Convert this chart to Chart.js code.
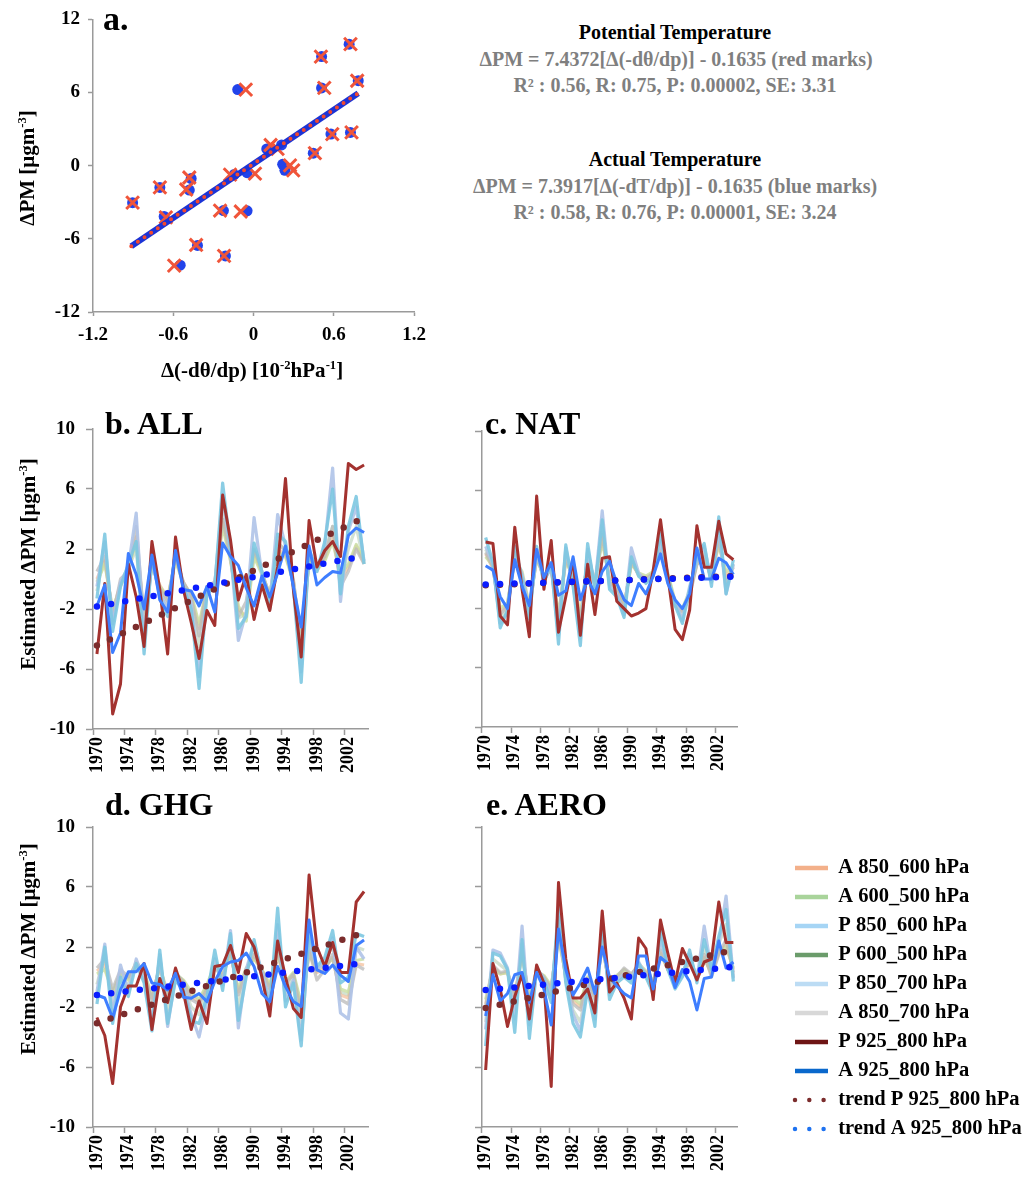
<!DOCTYPE html>
<html><head><meta charset="utf-8">
<script src="https://cdn.jsdelivr.net/npm/chart.js@4.4.0/dist/chart.umd.min.js"></script>
<style>
html,body{margin:0;padding:0;background:#fff;}
body{width:1028px;height:1179px;position:relative;overflow:hidden;font-family:'Liberation Serif','Times New Roman',serif;font-weight:bold;color:#000;}
canvas{position:absolute;}
.t{position:absolute;white-space:nowrap;line-height:1;}
.c{transform:translate(-50%,-50%);}
.r{transform:translate(-50%,-50%) rotate(-90deg);}
.s{font-size:0.6em;position:relative;top:-0.6em;}
.g{color:#7f7f7f;}
</style></head><body>
<canvas id="ca" width="440" height="390" style="left:0;top:0"></canvas>
<canvas id="cb" width="470" height="400" style="left:0;top:390px"></canvas>
<canvas id="cc" width="558" height="400" style="left:470px;top:390px"></canvas>
<canvas id="cd" width="470" height="389" style="left:0;top:790px"></canvas>
<canvas id="ce" width="558" height="389" style="left:470px;top:790px"></canvas>

<div class="t" style="left:103px;top:2px;font-size:34px">a.</div>
<div class="t" style="left:105px;top:407px;font-size:32px">b. ALL</div>
<div class="t" style="left:485px;top:407px;font-size:32px">c. NAT</div>
<div class="t" style="left:105px;top:788px;font-size:32px">d. GHG</div>
<div class="t" style="left:486px;top:788px;font-size:32px">e. AERO</div>

<div class="t r" style="left:27px;top:168px;font-size:21px">ΔPM [μgm<span class="s">-3</span>]</div>
<div class="t c" style="left:252px;top:370px;font-size:21px">Δ(-dθ/dp) [10<span class="s">-2</span>hPa<span class="s">-1</span>]</div>
<div class="t r" style="left:28px;top:564px;font-size:21px">Estimated ΔPM [μgm<span class="s">-3</span>]</div>
<div class="t r" style="left:28px;top:949px;font-size:21px">Estimated ΔPM [μgm<span class="s">-3</span>]</div>

<div class="t c" style="left:675px;top:32px;font-size:20px">Potential Temperature</div>
<div class="t c g" style="left:676px;top:59px;font-size:20px">ΔPM = 7.4372[Δ(-dθ/dp)] - 0.1635 (red marks)</div>
<div class="t c g" style="left:675px;top:85px;font-size:20px">R² : 0.56, R: 0.75, P: 0.00002, SE: 3.31</div>
<div class="t c" style="left:675px;top:159px;font-size:20px">Actual Temperature</div>
<div class="t c g" style="left:675px;top:186px;font-size:20px">ΔPM = 7.3917[Δ(-dT/dp)] - 0.1635 (blue marks)</div>
<div class="t c g" style="left:675px;top:212px;font-size:20px">R² : 0.58, R: 0.76, P: 0.00001, SE: 3.24</div>

<script>
// ---------- Panel a data ----------
const blueX = [-0.904,-0.70,-0.668,-0.466,-0.48,-0.548,-0.419,-0.225,-0.21,-0.145,-0.118,-0.048,-0.048,0.099,0.21,0.218,0.235,0.447,0.509,0.509,0.579,0.715,0.725,0.783];
const blueY = [-3.03,-1.78,-4.16,-1.05,-2.0,-8.16,-6.54,-3.68,-7.4,-0.73,6.24,-3.70,-0.57,1.38,1.70,0.11,-0.38,1.03,8.95,6.38,2.59,9.97,2.73,6.97];
const redX = [-0.904,-0.70,-0.655,-0.48,-0.503,-0.593,-0.429,-0.25,-0.22,-0.175,-0.058,-0.095,0.011,0.128,0.18,0.273,0.297,0.459,0.504,0.529,0.589,0.725,0.733,0.775];
const redY = [-3.03,-1.78,-4.24,-0.97,-1.95,-8.2,-6.5,-3.68,-7.4,-0.73,6.24,-3.76,-0.65,1.70,1.38,0.03,-0.38,1.03,8.95,6.38,2.59,9.97,2.73,6.97];
const fitX = [-0.914, 0.783];
const fitY = [-6.6, 5.95];

// ---------- Panels b-e data ----------
const years = [1970,1971,1972,1973,1974,1975,1976,1977,1978,1979,1980,1981,1982,1983,1984,1985,1986,1987,1988,1989,1990,1991,1992,1993,1994,1995,1996,1997,1998,1999,2000,2001,2002,2003,2004];
const seriesNames = ['A 850_600 hPa','A 600_500 hPa','P 850_600 hPa','P 600_500 hPa','P 850_700 hPa','A 850_700 hPa','P 925_800 hPa','A 925_800 hPa','trend P 925_800 hPa','trend A 925_800 hPa'];

// b. ALL
const bA850_600 = [0.0,1.2,-2.2,-0.3,0.6,2.8,-2.6,1.0,-0.4,-1.3,1.3,-0.2,-1.1,-3.3,-0.5,-0.3,3.8,1.3,-2.0,-2.5,1.8,0.4,-1.1,2.0,1.6,-0.1,-4.2,1.3,0.7,1.3,2.8,0.0,0.8,2.2,1.1];
const bA600_500 = [-0.2,1.0,-2.0,-0.5,0.8,2.5,-2.5,0.8,-0.5,-1.2,1.2,-0.3,-1.0,-3.0,-0.6,-0.4,3.5,1.2,-1.8,-2.8,1.5,0.3,-1.0,1.8,1.5,-0.2,-4.0,1.2,0.6,1.2,2.5,0.3,1.0,2.3,1.2];
const bP850_600 = [-1.3,3.0,-3.5,-0.5,1.0,2.5,-5.0,1.5,-1.2,-2.5,2.0,-0.5,-2.0,-7.3,-1.0,-0.5,6.4,2.0,-3.3,-2.5,2.4,0.5,-2.0,3.0,2.5,-0.5,-6.9,2.0,0.5,2.5,6.0,-1.0,3.5,5.5,1.0];
const bP600_500 = [-0.8,1.8,-2.8,-0.4,0.7,2.0,-3.5,1.1,-0.8,-1.8,1.5,-0.4,-1.4,-4.5,-0.8,-0.5,4.5,1.5,-2.6,-2.3,1.9,0.4,-1.5,2.3,2.0,-0.3,-5.0,1.5,0.5,1.8,3.5,-0.3,2.0,3.5,1.0];
const bP850_700 = [-0.5,2.5,-3.0,-0.2,0.8,4.4,-4.0,1.2,-1.0,-2.0,1.8,-0.4,-1.6,-6.5,-0.8,-0.3,5.5,1.8,-4.1,-2.2,4.1,0.3,-1.8,4.3,2.2,-0.4,-6.2,1.8,0.6,2.2,7.4,-1.5,3.2,4.8,1.2];
const bA850_700 = [0.5,1.5,-2.5,0.0,0.5,3.5,-2.8,1.0,-0.6,-1.5,1.5,-0.2,-1.2,-3.8,-0.5,-0.2,4.0,1.5,-2.5,-1.5,2.0,0.5,-1.2,2.5,1.8,0.0,-4.5,1.5,0.8,1.5,3.5,-0.5,0.5,2.0,1.0];
const bP925_800 = [-5.0,-0.3,-9.0,-7.0,1.0,-1.2,-4.5,2.5,-0.7,-5.0,2.8,-0.7,-2.9,-5.3,-2.1,-3.1,5.6,2.6,-1.4,0.3,-2.7,-0.4,-2.1,0.8,6.7,-0.7,-5.2,3.9,0.8,1.9,2.5,1.5,7.7,7.3,7.6];
const bA925_800 = [-1.8,-0.4,-4.9,-3.6,1.7,0.3,-2.0,1.6,-1.4,-2.2,1.9,-0.7,-0.8,-1.8,-0.5,-2.2,2.4,1.5,0.9,-0.6,-1.8,0.2,-1.2,0.4,2.2,-0.5,-3.2,2.2,-0.4,0.1,0.5,0.4,2.9,3.4,3.1];
const bTrendP = [-4.44, 4.09];
const bTrendA = [-1.84, 1.53];

// c. NAT
const cA850_600 = [1.7,0.7,-2.2,-1.7,1.4,0.3,-1.9,1.4,0.1,0.6,-2.6,1.3,0.1,-2.8,1.4,-0.2,2.8,-0.1,-0.7,-1.9,1.1,0.3,0.1,0.4,1.9,0.3,-1.6,-2.1,-1.0,1.1,1.4,0.1,2.5,0.2,0.8];
const cA600_500 = [1.5,0.9,-2.0,-1.6,1.3,0.5,-1.8,1.3,0.3,0.8,-2.4,1.2,0.2,-2.5,1.3,-0.1,2.5,0.0,-0.6,-1.8,1.0,0.4,0.2,0.5,1.8,0.4,-1.5,-2.0,-0.8,1.0,1.3,0.3,2.3,0.5,0.9];
const cP850_600 = [2.8,1.1,-3.3,-2.1,2.2,0.0,-2.7,2.2,-0.3,1.1,-4.4,2.3,-0.5,-4.5,2.4,-0.7,4.0,-0.7,-1.2,-2.6,1.5,0.2,-0.3,0.2,3.1,0.2,-1.8,-3.0,-0.7,1.5,2.4,-0.5,4.2,-1.0,1.3];
const cP600_500 = [2.0,0.9,-2.7,-2.0,1.6,0.1,-2.2,1.7,0.0,0.9,-3.2,1.8,-0.2,-3.5,1.8,-0.4,3.5,-0.4,-0.9,-2.2,1.4,0.2,-0.1,0.3,2.3,0.1,-1.7,-2.5,-0.9,1.3,1.8,-0.2,3.2,-0.5,1.0];
const cP850_700 = [2.2,1.0,-3.0,-2.3,1.8,0.3,-2.4,1.8,-0.1,0.8,-3.8,2.1,-0.3,-4.0,2.0,-0.5,4.6,-0.5,-1.0,-2.4,2.1,0.4,-0.2,0.3,2.6,0.0,-1.5,-2.8,-0.5,1.2,2.2,-0.2,3.6,-1.0,1.0];
const cA850_700 = [1.8,0.8,-2.4,-1.8,1.5,0.2,-2.0,1.5,0.2,0.7,-2.8,1.5,0.0,-3.0,1.5,-0.3,3.0,-0.2,-0.8,-2.0,1.2,0.3,0.0,0.4,2.0,0.2,-1.8,-2.2,-1.2,1.0,1.5,0.0,2.8,-0.3,0.8];
const cP925_800 = [2.5,2.4,-2.5,-3.1,3.5,-0.7,-3.9,5.6,-0.7,2.6,-3.6,-1.2,1.3,-3.8,1.0,-2.4,1.4,1.5,-1.5,-2.0,-2.5,-2.3,-2.0,0.6,4.0,0.2,-3.4,-4.1,-2.1,3.6,0.8,0.8,3.9,1.7,1.3];
const cA925_800 = [0.9,0.6,-1.2,-2.0,1.3,-0.5,-1.8,2.0,0.1,1.1,-1.1,-0.8,1.5,-1.4,0.0,-1.0,0.5,1.2,-0.3,-1.4,-1.8,-0.3,-1.0,0.2,1.7,-0.3,-1.4,-2.0,-1.0,2.1,0.0,0.0,1.4,1.1,0.3];
const cTrendP = [-0.42, 0.2];
const cTrendA = [-0.37, 0.15];

// d. GHG
const dA850_600 = [0.4,0.8,-1.2,0.3,-0.1,0.9,0.2,-1.4,0.7,-1.3,0.2,-0.3,-1.2,-1.7,-0.6,0.7,0.1,1.6,-1.0,0.5,1.3,0.4,-0.6,1.6,-0.4,0.2,-2.0,1.6,0.3,0.6,1.3,-1.2,-1.4,0.9,0.8];
const dA600_500 = [0.2,0.5,-1.0,0.2,-0.2,1.0,0.3,-1.2,0.6,-1.0,0.2,-0.2,-1.0,-1.5,-0.5,0.8,0.2,1.5,-0.8,0.6,1.2,0.5,-0.5,1.5,-0.3,0.3,-1.8,1.5,0.6,0.8,1.2,-0.8,-1.0,1.1,1.2];
const dP850_600 = [-1.8,2.0,-3.1,0.0,-1.3,0.9,-0.4,-3.6,1.8,-3.1,-0.2,-0.9,-2.9,-3.1,-1.3,1.8,-0.9,2.9,-2.9,0.0,2.5,0.0,-2.0,4.6,-2.0,-0.4,-4.6,3.1,0.7,1.3,3.1,-0.4,0.0,2.9,2.7];
const dP600_500 = [-0.5,1.5,-1.8,0.2,-0.6,1.0,0.0,-2.2,1.2,-2.2,0.0,-0.5,-2.0,-2.5,-1.0,1.2,-0.3,2.2,-2.0,0.3,1.8,0.2,-1.2,2.8,-1.2,0.0,-3.2,2.2,0.4,0.9,2.2,-1.0,-1.2,2.0,1.8];
const dP850_700 = [-1.0,2.2,-2.5,0.8,-1.0,1.2,-0.2,-3.0,1.5,-3.3,0.0,-0.6,-2.5,-4.0,-1.6,1.2,-0.5,3.1,-3.4,0.5,2.3,0.3,-1.6,3.5,-1.6,-0.2,-4.2,2.6,0.5,1.0,2.6,-2.4,-2.8,2.0,1.2];
const dA850_700 = [0.6,1.2,-0.8,0.5,0.0,0.8,0.2,-1.5,0.8,-1.5,0.3,-0.3,-1.5,-1.8,-0.8,0.6,0.0,1.8,-1.2,0.5,1.5,0.4,-0.8,1.8,-0.5,0.2,-2.5,1.8,-0.2,0.5,1.5,-1.5,-1.8,0.8,0.5];
const dP925_800 = [-2.7,-3.9,-7.1,-2.0,-0.6,-0.6,0.9,-3.5,-0.1,-1.7,0.6,-1.0,-3.5,-1.6,-3.1,0.7,0.8,2.1,0.3,2.9,2.0,0.0,-2.6,2.4,0.0,-2.1,-2.7,6.8,2.0,0.7,2.3,0.3,0.3,5.0,5.7];
const dA925_800 = [-1.2,-1.4,-2.75,-0.86,0.35,0.35,0.9,-0.4,-0.5,-0.86,0.24,-1.35,-1.42,-1.1,-1.64,-0.3,0.7,1.0,1.1,1.6,0.7,-1.1,-1.64,0.7,-0.64,-1.64,-1.97,3.8,0.47,0.24,0.8,0.13,-0.3,2.1,2.46];
const dTrendP = [-3.08, 2.97];
const dTrendA = [-1.2, 0.93];

// e. AERO
const eA850_600 = [-1.8,0.7,0.2,0.3,-1.4,1.6,-1.6,0.5,0.0,-0.7,2.8,0.1,-1.6,-2.0,-0.1,-1.3,2.1,-0.5,0.0,0.5,0.1,0.8,0.3,-0.3,1.6,0.5,-0.1,0.3,0.9,0.1,1.3,0.2,1.6,2.2,0.5];
const eA600_500 = [-1.5,0.6,0.2,0.3,-1.2,1.5,-1.4,0.4,0.1,-0.6,2.5,0.2,-1.4,-1.8,0.0,-1.2,2.0,-0.4,0.1,0.5,0.1,0.9,0.4,-0.3,1.5,0.6,-0.1,0.4,0.9,0.2,1.2,0.3,1.8,2.0,0.6];
const eP850_600 = [-4.6,1.6,1.4,0.5,-3.7,2.5,-4.1,0.5,-0.2,-1.7,4.7,-0.4,-3.1,-4.0,-0.8,-3.3,3.6,-1.5,-0.4,0.0,-0.4,0.9,0.0,-1.1,3.2,0.5,-0.8,0.0,1.8,-0.4,2.5,0.5,2.7,4.5,-0.3];
const eP600_500 = [-3.0,1.2,0.8,0.4,-2.2,2.2,-2.6,0.5,-0.1,-1.2,3.8,-0.2,-2.2,-3.0,-0.4,-2.4,2.8,-1.0,-0.2,0.2,-0.2,0.9,0.1,-0.7,2.4,0.5,-0.5,0.1,1.3,-0.1,2.0,0.3,2.2,3.5,0.0];
const eP850_700 = [-3.5,1.8,1.6,0.6,-2.8,3.4,-3.2,0.6,-0.1,-1.2,4.0,-0.2,-2.5,-3.6,-0.5,-2.8,3.0,-1.2,-0.2,0.2,-0.2,1.0,0.1,-0.8,2.6,0.6,-0.6,0.2,1.5,-0.2,3.4,0.4,2.2,5.4,-0.1];
const eA850_700 = [-2.0,0.8,0.3,0.4,-1.5,1.8,-1.8,0.5,0.0,-0.8,3.0,0.0,-1.8,-2.2,-0.2,-1.5,2.2,-0.6,0.0,0.6,0.2,0.8,0.3,-0.4,1.8,0.5,-0.2,0.3,1.0,0.0,1.5,0.0,1.5,2.5,0.3];
const eP925_800 = [-6.2,0.9,-0.8,-3.3,-1.3,0.2,-2.8,0.8,-0.4,-7.3,6.3,1.2,-1.4,-1.4,-0.8,-2.4,4.4,-1.0,-0.4,-1.4,-2.8,2.6,1.9,-1.5,3.8,1.6,-0.4,1.9,0.9,-0.2,1.0,1.2,5.0,2.3,2.3];
const eA925_800 = [-2.6,0.15,-1.6,-1.1,0.15,0.3,-1.7,0.3,-0.8,-3.2,3.2,0.5,-1.2,-0.4,0.6,-1.1,2.0,0.0,-0.6,-1.1,-1.4,1.4,1.4,-0.8,1.3,0.9,-0.7,0.5,-0.3,-2.2,-0.1,0.0,2.4,0.6,1.0];
const eTrendP = [-2.07, 1.8];
const eTrendA = [-0.87, 0.67];

// ---------- styles ----------
const plotColors = ['rgba(240,170,120,0.55)','rgba(200,222,160,0.8)','rgba(125,200,225,0.9)','rgba(110,160,110,0.3)','rgba(175,195,232,0.9)','rgba(185,185,185,0.75)','#A3322F','#3E7EFF'];
const plotOrder = [15,14,11,16,12,13,3,2];
const trendColors = ['#7B2C2C','#0A1CFF'];
const legendColors = ['#F3B08A','#A9D49B','#A6D5F5','#6B9C6B','#BCDCF4','#D8D8D8','#6E1515','#0A68CC','#7B2C2C','#1E72F0'];
const AX = '#9a9a9a';

Chart.defaults.font.family = "'Liberation Serif','Times New Roman',serif";
Chart.defaults.font.weight = 'bold';
Chart.defaults.color = '#000';

// ---------- panel a ----------
new Chart(document.getElementById('ca'), {
  type: 'scatter',
  data: { datasets: [
    { type:'line', label:'fit red', data: fitX.map((x,i)=>({x, y: fitY[i]})), borderColor:'#F2492E', borderWidth:4, borderDash:[0,8], borderCapStyle:'round', pointRadius:0, order:0 },
    { type:'line', label:'fit blue', data: fitX.map((x,i)=>({x, y: fitY[i]})), borderColor:'#1B33D6', borderWidth:6, pointRadius:0, order:1 },
    { label:'Potential', data: redX.map((x,i)=>({x, y: redY[i]})), pointStyle:'crossRot', pointRadius:9, borderWidth:3, pointBorderWidth:3, borderColor:'#F0553A', backgroundColor:'#F0553A', order:2 },
    { label:'Actual', data: blueX.map((x,i)=>({x, y: blueY[i]})), pointStyle:'circle', pointRadius:5.5, borderWidth:0, backgroundColor:'#2243EA', order:3 }
  ]},
  options: {
    responsive:false, animation:false, devicePixelRatio:1,
    layout:{ padding:{ top:16, right:26, left:0, bottom:0 } },
    plugins:{ legend:{display:false}, tooltip:{enabled:false} },
    scales:{
      x:{ type:'linear', min:-1.2, max:1.2,
          grid:{ drawOnChartArea:false, drawTicks:true, tickLength:4, tickWidth:1.5, tickColor:AX },
          border:{ color:AX, width:1.5 },
          ticks:{ stepSize:0.6, padding:8, font:{size:19}, callback:v=>{ const r=Math.round(v*10)/10; return r===0?'0':String(r); } },
          afterFit:s=>{ s.height = 78; } },
      y:{ min:-12, max:12,
          grid:{ drawOnChartArea:false, drawTicks:true, tickLength:5, tickWidth:1.5, tickColor:AX },
          border:{ color:AX, width:1.5 },
          ticks:{ stepSize:6, padding:8, font:{size:19}, callback:v=>String(Math.round(v)) },
          afterFit:s=>{ s.width = 93; } }
    }
  }
});

// ---------- panels b-e ----------
const legendPlace = {
  id:'legendPlace',
  afterInit(chart, args, opts){
    const lg = chart.legend; if(!lg) return;
    const f = lg.fit;
    lg.fit = function(){ f.call(this); this.width = opts.width; };
  },
  afterLayout(chart, args, opts){
    const lg = chart.legend; if(!lg) return;
    lg.left += opts.dx; lg.right += opts.dx; lg.top += opts.dy; lg.bottom += opts.dy;
  }
};

function trendData(tr){
  const arr = years.map(()=>null);
  arr[0] = tr[0]; arr[arr.length-1] = tr[1];
  return arr;
}

function lineChart(id, sets, trP, trA, cfg){
  const datasets = sets.map((arr,i)=>({
    label: seriesNames[i], data: arr, borderColor: plotColors[i], backgroundColor: plotColors[i],
    borderWidth: i>=6 ? 3 : 3.2, pointRadius:0, tension:0, fill:false, order: plotOrder[i], borderJoinStyle:'round'
  }));
  datasets.push({ label: seriesNames[8], data: trendData(trP), borderColor: trendColors[0], backgroundColor: trendColors[0], borderWidth:6.5, borderDash:[0,14.4], borderCapStyle:'round', spanGaps:true, pointRadius:0, order:1 });
  datasets.push({ label: seriesNames[9], data: trendData(trA), borderColor: trendColors[1], backgroundColor: trendColors[1], borderWidth:6.5, borderDash:[0,14.4], borderCapStyle:'round', spanGaps:true, pointRadius:0, order:0 });
  const legend = cfg.legend ? {
    display:true, position:'right', align:'center',
    labels:{ usePointStyle:true, pointStyle:'line', pointStyleWidth:33, padding:8.5, color:'#000',
      font:{ size:20.5, weight:'bold' },
      sort:(a,b)=>a.datasetIndex-b.datasetIndex,
      generateLabels: chart => Chart.defaults.plugins.legend.labels.generateLabels(chart).map(it=>{
        const k = it.datasetIndex;
        it.strokeStyle = legendColors[k]; it.fillStyle = legendColors[k];
        if (k >= 8) { it.lineWidth = 4.5; it.lineDash = [0,14.3]; it.lineCap = 'round'; }
        else { it.lineWidth = 4.5; it.lineDash = []; it.lineCap = 'butt'; }
        return it;
      })
    }
  } : { display:false };
  return new Chart(document.getElementById(id), {
    type:'line',
    data:{ labels: years, datasets },
    options:{
      responsive:false, animation:false, devicePixelRatio:1,
      layout:{ padding:{ top:cfg.top, right:cfg.right, left:0, bottom:0 } },
      plugins:{ legend, tooltip:{enabled:false}, legendPlace: cfg.place || {width:0,dx:0,dy:0} },
      scales:{
        x:{ type:'category', offset:true,
            grid:{ offset:true, drawOnChartArea:false, drawTicks:true, tickLength:6, tickWidth:1.5,
                   tickColor: c => (c.index !== undefined && c.index % 4 === 0) ? AX : 'rgba(0,0,0,0)' },
            border:{ color:AX, width:1.5 },
            ticks:{ autoSkip:false, maxRotation:90, minRotation:90, padding:2, font:{size:18},
                    callback:(v,i)=> i%4===0 ? String(years[i]) : '' },
            afterFit:s=>{ s.height = cfg.xh; } },
        y:{ min:-10, max:10,
            grid:{ drawOnChartArea:false, drawTicks:true, tickLength:7, tickWidth:1.5, tickColor:AX },
            border:{ color:AX, width:1.5 },
            ticks:{ stepSize:4, display: cfg.ylabels, padding:11, font:{size:19} },
            afterFit:s=>{ s.width = cfg.yw; } }
      }
    },
    plugins: cfg.legend ? [legendPlace] : []
  });
}

lineChart('cb', [bA850_600,bA600_500,bP850_600,bP600_500,bP850_700,bA850_700,bP925_800,bA925_800], bTrendP, bTrendA,
  { top:39, right:102, xh:61, yw:93, ylabels:true });
lineChart('cc', [cA850_600,cA600_500,cP850_600,cP600_500,cP850_700,cA850_700,cP925_800,cA925_800], cTrendP, cTrendA,
  { top:41, right:291, xh:63, yw:12, ylabels:false });
lineChart('cd', [dA850_600,dA600_500,dP850_600,dP600_500,dP850_700,dA850_700,dP925_800,dA925_800], dTrendP, dTrendA,
  { top:37, right:102, xh:52, yw:93, ylabels:true });
lineChart('ce', [eA850_600,eA600_500,eP850_600,eP600_500,eP850_700,eA850_700,eP925_800,eA925_800], eTrendP, eTrendA,
  { top:37, right:41, xh:52, yw:12, ylabels:false, legend:true, place:{ width:250, dx:49.5, dy:-4.5 } });
</script>
</body></html>
